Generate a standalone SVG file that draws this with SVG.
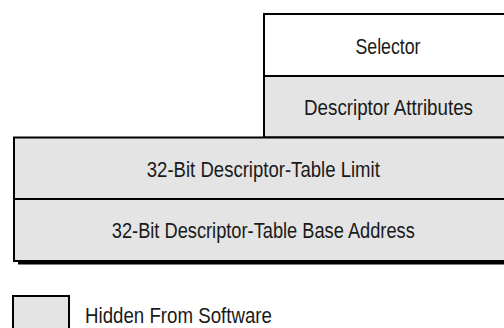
<svg xmlns="http://www.w3.org/2000/svg" width="504" height="328" viewBox="0 0 504 328">
  <style>
    .box { stroke: #000; stroke-width: 2; }
    .hidden { fill: #e4e4e4; }
    .visible { fill: #ffffff; }
    .shadow { fill: #000; }
    .lbl { font-family: "Liberation Sans", Arial, sans-serif; font-size: 22px; fill: #1a1a1a; }
    .mid { text-anchor: middle; }
  </style>
  <rect width="504" height="328" fill="#ffffff"/>
  <rect class="shadow" x="18" y="142" width="500" height="122.5"/>
  <g id="selector">
    <rect class="box visible" x="264" y="14" width="250" height="62"/>
    <text class="lbl mid" x="388" y="53.5" textLength="65" lengthAdjust="spacingAndGlyphs">Selector</text>
  </g>
  <g id="descriptor-attributes">
    <rect class="box hidden" x="264" y="76" width="250" height="61.5"/>
    <text class="lbl mid" x="388.5" y="115" textLength="169" lengthAdjust="spacingAndGlyphs">Descriptor Attributes</text>
  </g>
  <g id="table-limit">
    <rect class="box hidden" x="14" y="137.5" width="500" height="61.5"/>
    <text class="lbl mid" x="263.3" y="176.7" textLength="233" lengthAdjust="spacingAndGlyphs">32-Bit Descriptor-Table Limit</text>
  </g>
  <g id="table-base">
    <rect class="box hidden" x="14" y="199" width="500" height="62"/>
    <text class="lbl mid" x="263.3" y="238.3" textLength="303" lengthAdjust="spacingAndGlyphs">32-Bit Descriptor-Table Base Address</text>
  </g>
  <g id="legend">
    <rect class="box hidden" x="13" y="296" width="56" height="40"/>
    <text class="lbl" x="85" y="322.7" textLength="187" lengthAdjust="spacingAndGlyphs">Hidden From Software</text>
  </g>
</svg>
